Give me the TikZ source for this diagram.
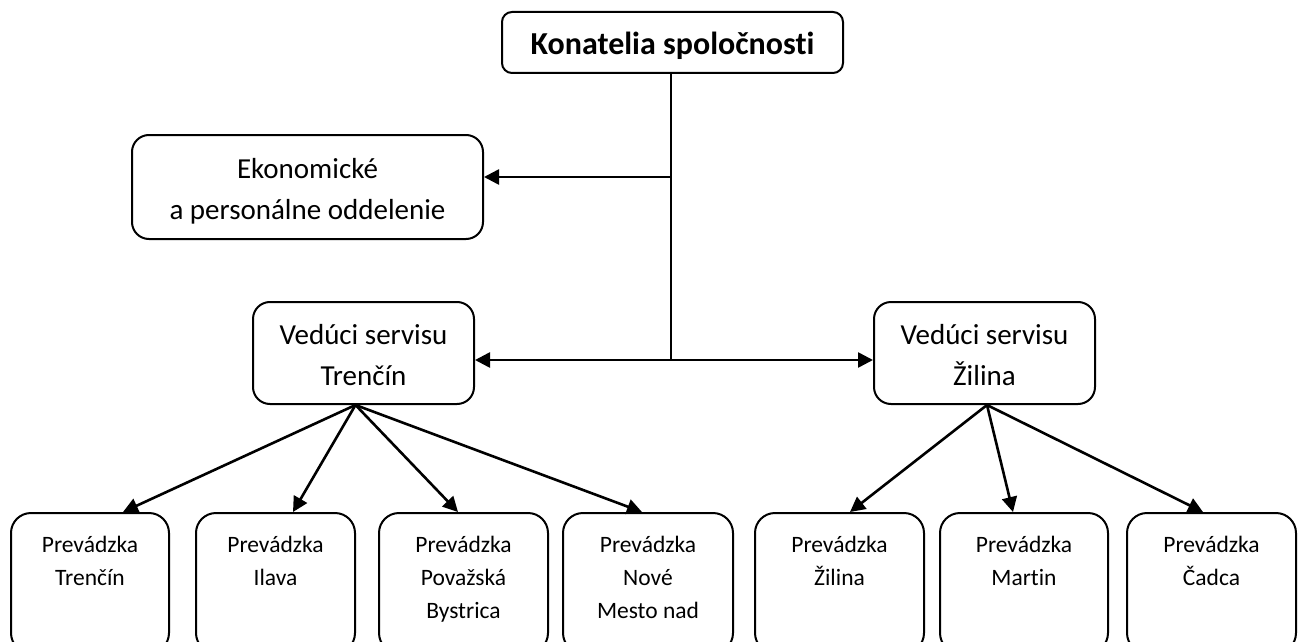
\documentclass[tikz,border=0pt]{standalone}
\usepackage{fontspec}
\setmainfont{Carlito}[Ligatures=NoCommon]
\usetikzlibrary{arrows.meta,calc}
\newcommand\bxt[4]{\parbox[c][#1][t]{#2}{\centering\vspace*{#3}\strut #4}}
\begin{document}
\begin{tikzpicture}[x=1pt,y=-1pt,
  box/.style={draw, line width=2pt, rounded corners=#1, inner sep=0pt},
  box/.default=16pt,
  conn/.style={line width=2.6pt},
  arr/.style={conn, -{Triangle[length=15pt,width=15pt]}},
  big/.style={font=\fontsize{29}{41.5}\selectfont},
  small/.style={font=\fontsize{23.5}{33}\selectfont},
  bold/.style={font=\fontsize{32}{38}\selectfont\bfseries}
]
\useasboundingbox (0,0) rectangle (1304,642);

% top
\node[box=10pt, bold] (top) at (672.5,42.5) {\bxt{61pt}{341pt}{16pt}{Konatelia spoločnosti}};
\node[box=17pt, big] (eko) at (307.5,187) {\bxt{104pt}{351pt}{14pt}{Ekonomické\\a personálne oddelenie}};
\node[box=17pt, big] (tn) at (363.5,353) {\bxt{102pt}{221pt}{13pt}{Vedúci servisu\\Trenčín}};
\node[box=17pt, big] (za) at (984.5,353) {\bxt{102pt}{221pt}{13pt}{Vedúci servisu\\Žilina}};

% bottom
\node[box=20pt, small] (b1) at (90,583) {\bxt{140pt}{158pt}{16pt}{Prevádzka\\Trenčín}};
\node[box=20pt, small] (b2) at (275.5,583) {\bxt{140pt}{159pt}{16pt}{Prevádzka\\Ilava}};
\node[box=20pt, small] (b3) at (463.5,583) {\bxt{140pt}{169pt}{16pt}{Prevádzka\\Považská\\Bystrica}};
\node[box=20pt, small] (b4) at (648,583) {\bxt{140pt}{170pt}{16pt}{Prevádzka\\Nové\\Mesto nad}};
\node[box=20pt, small] (b5) at (839.5,583) {\bxt{140pt}{169pt}{16pt}{Prevádzka\\Žilina}};
\node[box=20pt, small] (b6) at (1024,583) {\bxt{140pt}{168pt}{16pt}{Prevádzka\\Martin}};
\node[box=20pt, small] (b7) at (1211.5,583) {\bxt{140pt}{169pt}{16pt}{Prevádzka\\Čadca}};

% trunk
\coordinate (j1) at ($(top.south)+(-1.5,103)$);
\coordinate (j2) at ($(top.south)+(-1.5,286)$);
\coordinate (ts) at ($(top.south)+(-1.5,0)$);
\draw[conn] (ts) -- (j2);
\draw[arr] (j1) -- (j1 -| eko.east);
\draw[arr] (j2) -- (j2 -| tn.east);
\draw[arr] (j2) -- (j2 -| za.west);

% Trencin branches
\coordinate (tnb) at ($(tn.south)+(-8,0)$);
\draw[arr] (tnb) -- ([xshift=33pt]b1.north);
\draw[arr] (tnb) -- ([xshift=17.5pt]b2.north);
\draw[arr] (tnb) -- ([xshift=-5.5pt]b3.north);
\draw[arr] (tnb) -- ([xshift=-6pt]b4.north);

% Zilina branches
\coordinate (zab) at ($(za.south)+(2.5,0)$);
\draw[arr] (zab) -- ([xshift=10.5pt]b5.north);
\draw[arr] (zab) -- ([xshift=-11pt]b6.north);
\draw[arr] (zab) -- ([xshift=-8.5pt]b7.north);
\end{tikzpicture}
\end{document}
